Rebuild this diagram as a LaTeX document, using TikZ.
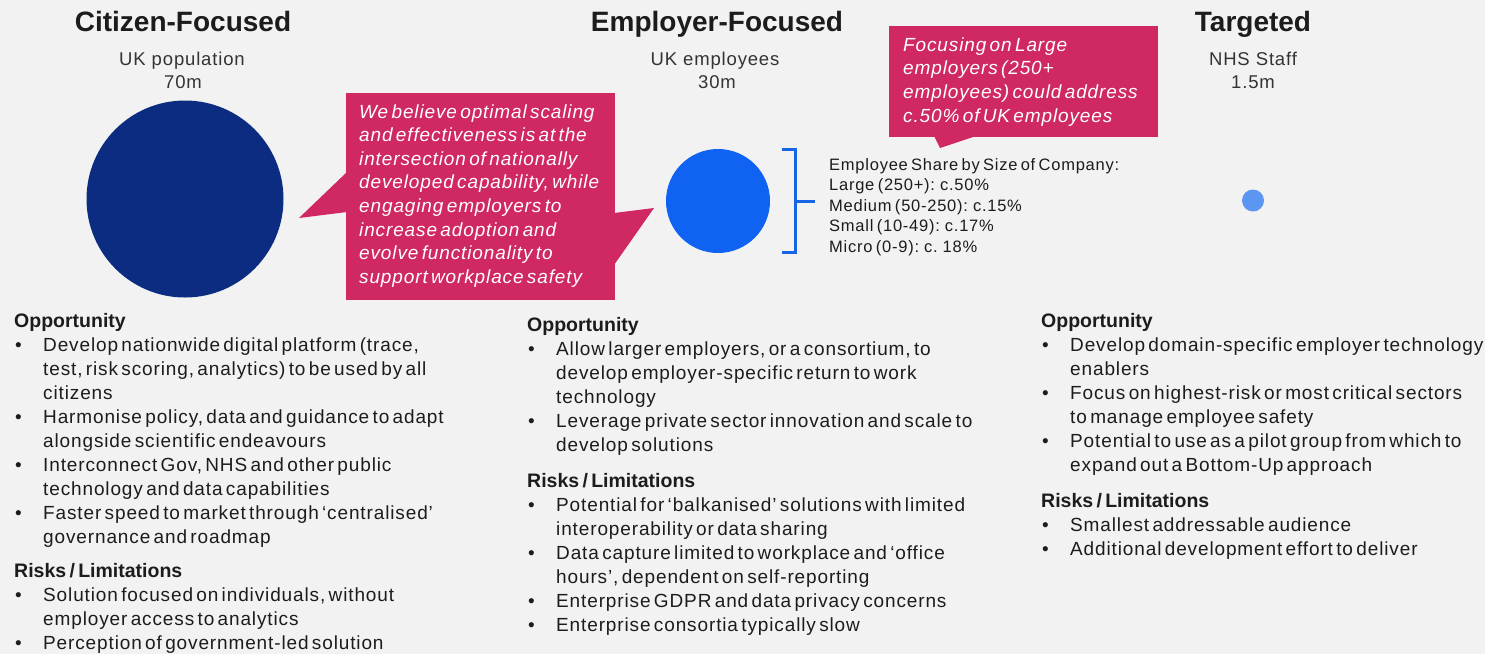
\documentclass[tikz,border=0pt]{standalone}
\usepackage{fontspec}
\setmainfont{Liberation Sans}[LetterSpace=4.6]
\newfontfamily\titlefont{Liberation Sans}
\definecolor{bg}{HTML}{F2F2F2}
\definecolor{navy}{HTML}{0B2C80}
\definecolor{bluemid}{HTML}{1062F2}
\definecolor{bluesmall}{HTML}{5B96F2}
\definecolor{pinkc}{HTML}{CF2862}
\definecolor{brack}{HTML}{1565E6}
\definecolor{txt}{HTML}{1C1C1C}
\newcommand{\itm}[1]{\par\hangindent=29pt\hangafter=1\noindent\makebox[29pt][l]{\hspace{1pt}\textbullet}#1}
\newcommand{\hdtext}[1]{{\titlefont\fontsize{19.5}{24}\selectfont\bfseries #1}}
\newcommand{\hd}[1]{\par\noindent\hdtext{#1}}
\begin{document}
\begin{tikzpicture}[x=1pt,y=-1pt,
  title/.style={inner sep=0pt, text=txt, font=\titlefont\fontsize{28}{30}\selectfont\bfseries},
  sub/.style={inner sep=0pt, text=txt!90, font=\fontsize{18.5}{22}\selectfont},
  colblock/.style={inner sep=0pt, text=txt, text width=470pt, align=left, anchor=base west},
  calltext/.style={inner sep=0pt, text=white, align=left, anchor=base west},
  callbox/.style={fill=pinkc, draw=none, inner sep=0pt, anchor=north west},
  bubble/.style={circle, inner sep=0pt, draw=none}]
\useasboundingbox (0,0) rectangle (1485,654);
\fill[bg] (0,0) rectangle (1485,654);

% titles
\node[title, anchor=base] (t1) at (183,31) {Citizen-Focused};
\node[title, anchor=base] (t2) at (717,31) {Employer-Focused};
\node[title, anchor=base] (t3) at (1253,31) {Targeted};
\node[sub, anchor=base] (s1a) at (182,65) {UK population};
\node[sub, anchor=base] (s1b) at (183,88) {70m};
\node[sub, anchor=base] (s2a) at (715,65) {UK employees};
\node[sub, anchor=base] (s2b) at (717,88) {30m};
\node[sub, anchor=base] (s3a) at (1253,65) {NHS Staff};
\node[sub, anchor=base] (s3b) at (1253,88) {1.5m};

% circles
\node[bubble, fill=navy, minimum size=197pt] (c1) at (185,199) {};
\node[bubble, fill=bluemid, minimum size=104pt] (c2) at (718,201) {};
\node[bubble, fill=bluesmall, minimum size=22pt] (c3) at (1253,200.5) {};

% callout 1
\node[callbox, minimum width=269pt, minimum height=207pt] (cb1) at (346,93) {};
\fill[pinkc] (347,172) -- (299,218) -- (347,212) -- cycle;
\fill[pinkc] (614,213) -- (654,208) -- (614,265) -- cycle;
\node[calltext, text width=262pt] (ct1) at (359,118) {\fontsize{19}{23.6}\selectfont\itshape
We believe optimal scaling\newline
and effectiveness is at the\newline
intersection of nationally\newline
developed capability, while\newline
engaging employers to\newline
increase adoption and\newline
evolve functionality to\newline
support workplace safety\par};

% callout 2
\node[callbox, minimum width=269pt, minimum height=111pt] (cb2) at (889,26) {};
\fill[pinkc] (934,136) -- (940,148) -- (976,136) -- cycle;
\node[calltext, text width=262pt] (ct2) at (903,51) {\fontsize{19}{23.7}\selectfont\itshape
Focusing on Large\newline
employers (250+\newline
employees) could address\newline
c.50\% of UK employees\par};

% bracket
\coordinate (bt) at (782,149);
\coordinate (bb) at (782,252);
\coordinate (bm) at (795,201);
\coordinate (btip) at (815,201);
\draw[brack, line width=3pt] (bt) -- (795,149) -- (795,252) -- (bb);
\draw[brack, line width=3pt] (bm) -- (btip);

\node[inner sep=0pt, text=txt, text width=330pt, align=left, anchor=base west] (share) at (829,170) {\fontsize{16.5}{20.5}\selectfont
Employee Share by Size of Company:\newline
Large (250+): c.50\%\newline
Medium (50-250): c.15\%\newline
Small (10-49): c.17\%\newline
Micro (0-9): c. 18\%\par};

% left column
\node[colblock] (colL) at (14,327) {\fontsize{19}{24}\selectfont\noindent\hdtext{Opportunity}%
\itm{Develop nationwide digital platform (trace,\newline test, risk scoring, analytics) to be used by all\newline citizens}
\itm{Harmonise policy, data and guidance to adapt\newline alongside scientific endeavours}
\itm{Interconnect Gov, NHS and other public\newline technology and data capabilities}
\itm{Faster speed to market through ‘centralised’\newline governance and roadmap}
\par\vspace{10pt}
\hd{Risks / Limitations}
\itm{Solution focused on individuals, without\newline employer access to analytics}
\itm{Perception of government-led solution}\par};

% middle column
\node[colblock] (colM) at (527,331) {\fontsize{19}{24}\selectfont\noindent\hdtext{Opportunity}%
\itm{Allow larger employers, or a consortium, to\newline develop employer-specific return to work\newline technology}
\itm{Leverage private sector innovation and scale to\newline develop solutions}
\par\vspace{12pt}
\hd{Risks / Limitations}
\itm{Potential for ‘balkanised’ solutions with limited\newline interoperability or data sharing}
\itm{Data capture limited to workplace and ‘office\newline hours’, dependent on self-reporting}
\itm{Enterprise GDPR and data privacy concerns}
\itm{Enterprise consortia typically slow}\par};

% right column
\node[colblock, text width=445pt] (colR) at (1041,327) {\fontsize{19}{24}\selectfont\noindent\hdtext{Opportunity}%
\itm{Develop domain-specific employer technology\newline enablers}
\itm{Focus on highest-risk or most critical sectors\newline to manage employee safety}
\itm{Potential to use as a pilot group from which to\newline expand out a Bottom-Up approach}
\par\vspace{12pt}
\hd{Risks / Limitations}
\itm{Smallest addressable audience}
\itm{Additional development effort to deliver}\par};
\end{tikzpicture}
\end{document}
